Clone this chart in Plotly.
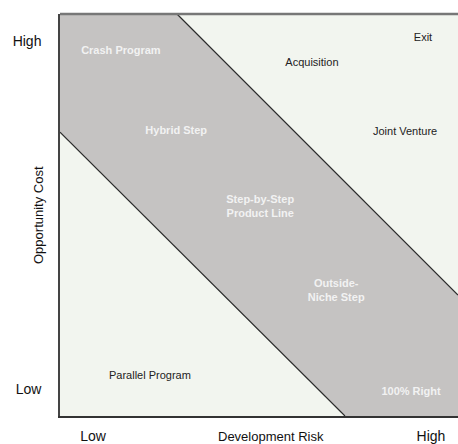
import plotly.graph_objects as go

# Strategy map: development risk (x) vs. opportunity cost (y), both 0..10
band_x = [0, 2.94, 10, 10, 7.16, 0]
band_y = [10, 10, 3.01, 0, 0, 7.06]

upper_edge_x = [2.94, 10]
upper_edge_y = [10, 3.01]
lower_edge_x = [0, 7.16]
lower_edge_y = [7.06, 0]

band_labels = ["Crash Program", "Hybrid Step", "Step-by-Step<br>Product Line",
               "Outside-<br>Niche Step", "100% Right"]
band_lx = [1.53, 2.92, 5.03, 6.94, 8.82]
band_ly = [9.07, 7.08, 5.19, 3.11, 0.58]

outer_labels = ["Exit", "Acquisition", "Joint Venture", "Parallel Program"]
outer_lx = [9.12, 6.33, 8.67, 2.26]
outer_ly = [9.4, 8.78, 7.06, 0.98]

tick_pos_x = [0.83, 9.32]
tick_pos_y = [0.67, 9.33]
tick_text = ["Low", "High"]

FONT = "Liberation Sans, Arial, sans-serif"
BG = "#f2f5ef"
BAND = "#c5c3c2"

fig = go.Figure()

fig.add_trace(go.Scatter(
    x=band_x, y=band_y, fill="toself", fillcolor=BAND,
    mode="lines", line=dict(width=0), hoverinfo="skip", showlegend=False))

for ex, ey in [(upper_edge_x, upper_edge_y), (lower_edge_x, lower_edge_y)]:
    fig.add_trace(go.Scatter(
        x=ex, y=ey, mode="lines", line=dict(color="#2a2a2a", width=1.2),
        hoverinfo="skip", showlegend=False))

fig.add_trace(go.Scatter(
    x=band_lx, y=band_ly, mode="text", text=band_labels,
    textfont=dict(family=FONT, size=11, color="#f2f2f2", weight="bold"),
    hoverinfo="skip", showlegend=False))

fig.add_trace(go.Scatter(
    x=outer_lx, y=outer_ly, mode="text", text=outer_labels,
    textfont=dict(family=FONT, size=11, color="#222222"),
    hoverinfo="skip", showlegend=False))

# top frame line (lighter than the axis lines)
fig.add_shape(type="line", xref="paper", yref="paper", x0=0, x1=1, y0=1, y1=1,
              line=dict(color="#777777", width=2.5))

fig.add_annotation(text="Development Risk", xref="paper", yref="paper",
                   x=0.53, y=0, yanchor="middle", xanchor="center", yshift=-20,
                   showarrow=False,
                   font=dict(family=FONT, size=13, color="#111111"))
fig.add_annotation(text="Opportunity Cost", xref="paper", yref="paper",
                   x=0, xanchor="center", yanchor="middle", xshift=-22, y=0.5,
                   textangle=-90, showarrow=False,
                   font=dict(family=FONT, size=13, color="#111111"))

fig.update_layout(
    width=458, height=444,
    margin=dict(l=60, r=0, t=14, b=28),
    paper_bgcolor="white", plot_bgcolor=BG,
    xaxis=dict(range=[0, 10], showgrid=False, zeroline=False,
               tickvals=tick_pos_x, ticktext=tick_text, ticks="",
               ticklabelstandoff=6,
               tickfont=dict(family=FONT, size=14, color="#111111"),
               showline=True, linecolor="#333333", linewidth=1.5,
               fixedrange=True),
    yaxis=dict(range=[0, 10], showgrid=False, zeroline=False,
               tickvals=tick_pos_y, ticktext=tick_text, ticks="",
               ticklabelstandoff=14,
               tickfont=dict(family=FONT, size=14, color="#111111"),
               showline=True, linecolor="#444444", linewidth=1.5,
               fixedrange=True),
)

fig.write_html("out.html")
